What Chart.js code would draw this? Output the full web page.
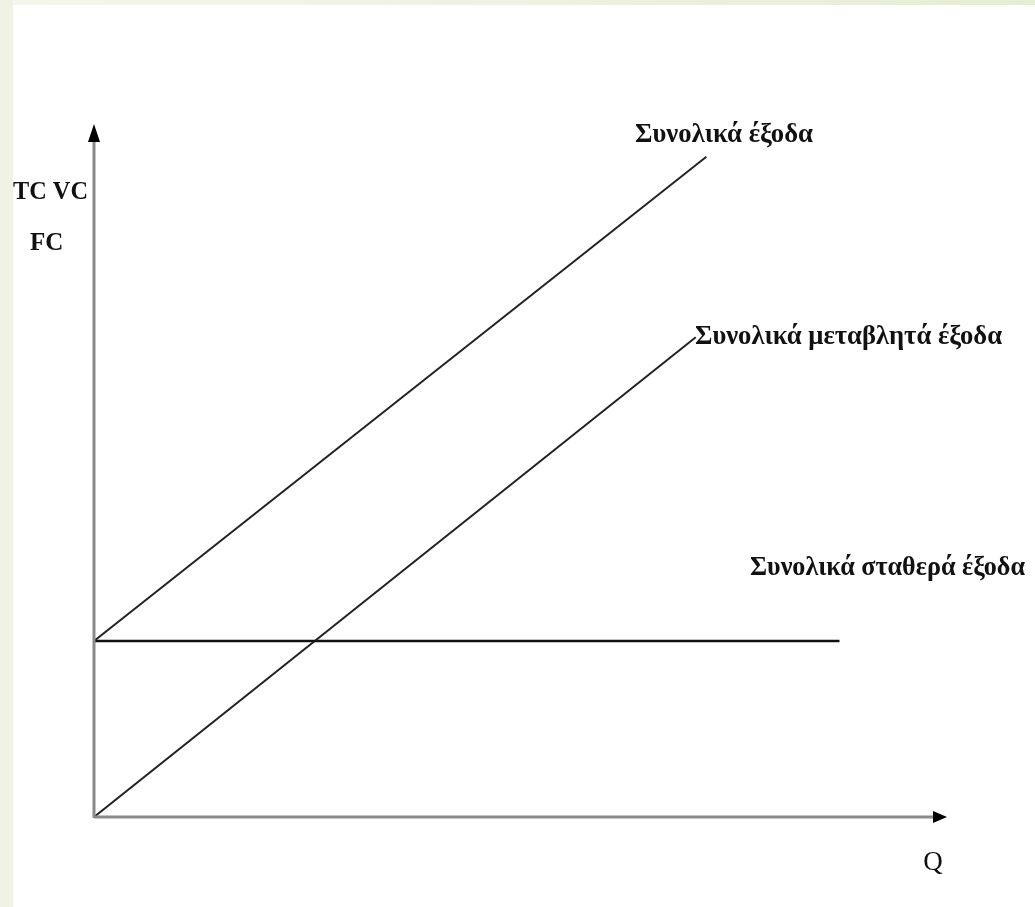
<!DOCTYPE html>
<html>
<head>
<meta charset="utf-8">
<script src="https://cdn.jsdelivr.net/npm/chart.js@4.4.0/dist/chart.umd.min.js"></script>
<style>
  body { margin: 0; background: #ffffff; }
  #wrap { position: relative; width: 1035px; height: 907px; }
  .strip-top { position: absolute; left: 0; top: 0; width: 1035px; height: 5px; background: linear-gradient(to right, #f4f6ec, #e6edd6); }
  .strip-left { position: absolute; left: 0; top: 0; width: 13px; height: 907px; background: #eff2e4; }
  canvas { position: absolute; left: 0; top: 0; }
</style>
</head>
<body>
<div id="wrap">
  <div class="strip-top"></div>
  <div class="strip-left"></div>
  <canvas id="myChart" width="1035" height="907"></canvas>
</div>
<script>
// quantity (Q) and cost values
const fcQ = [0, 7];
const fcCost = [2, 2];
const tcQ = [0, 5.75];
const tcCost = [2, 7.5];
const vcQ = [0, 5.65];
const vcCost = [0, 5.45];

const labelTC = 'Συνολικά έξοδα';
const labelVC = 'Συνολικά μεταβλητά έξοδα';
const labelFC = 'Συνολικά σταθερά έξοδα';
const yAxisTitle = ['TC VC', 'FC'];
const xAxisTitle = 'Q';

function toPoints(xs, ys) {
  return xs.map((x, i) => ({ x: x, y: ys[i] }));
}

// draws the axes with arrows and the text labels
const axesPlugin = {
  id: 'axesPlugin',
  afterDatasetsDraw(chart) {
    const c = chart.ctx;
    const a = chart.chartArea;
    const x0 = chart.scales.x.getPixelForValue(0);
    const y0 = chart.scales.y.getPixelForValue(0);
    c.save();
    c.strokeStyle = '#8a8a8a';
    c.lineWidth = 3;
    c.beginPath();
    c.moveTo(x0, y0 + 1);
    c.lineTo(x0, a.top + 14);
    c.moveTo(x0, y0);
    c.lineTo(a.right - 12, y0);
    c.stroke();

    c.fillStyle = '#000';
    c.beginPath();
    c.moveTo(x0, a.top - 2);
    c.lineTo(x0 - 6, a.top + 16);
    c.lineTo(x0 + 6, a.top + 16);
    c.closePath();
    c.fill();
    c.beginPath();
    c.moveTo(a.right + 1, y0);
    c.lineTo(a.right - 13, y0 - 6);
    c.lineTo(a.right - 13, y0 + 6);
    c.closePath();
    c.fill();

    c.fillStyle = '#111';
    c.textBaseline = 'middle';
    c.font = 'bold 28px "Liberation Serif", serif';
    c.textAlign = 'left';
    c.fillText(labelTC, 635, 135, 178);
    c.fillText(labelVC, 695, 337, 307);
    c.fillText(labelFC, 750, 568, 275);

    c.font = 'bold 25px "Liberation Serif", serif';
    c.textAlign = 'left';
    c.fillText(yAxisTitle[0], 13, 193, 75);
    c.fillText(yAxisTitle[1], 30, 244, 35);
    c.font = '27px "Liberation Serif", serif';
    c.textAlign = 'center';
    c.fillText(xAxisTitle, 933, 863);
    c.restore();
  }
};

const ctx = document.getElementById('myChart');
chart = new Chart(ctx, {
  type: 'scatter',
  data: {
    datasets: [
      { label: labelFC, data: toPoints(fcQ, fcCost), showLine: true, borderColor: '#111', borderWidth: 2.5, pointRadius: 0 },
      { label: labelTC, data: toPoints(tcQ, tcCost), showLine: true, borderColor: '#222', borderWidth: 2, pointRadius: 0 },
      { label: labelVC, data: toPoints(vcQ, vcCost), showLine: true, borderColor: '#222', borderWidth: 2, pointRadius: 0 }
    ]
  },
  options: {
    responsive: false,
    animation: false,
    devicePixelRatio: 1,
    layout: { padding: { left: 94, top: 126, right: 89, bottom: 90 } },
    plugins: { legend: { display: false }, tooltip: { enabled: false } },
    scales: {
      x: { type: 'linear', min: 0, max: 8, display: false },
      y: { type: 'linear', min: 0, max: 7.85, display: false }
    }
  },
  plugins: [axesPlugin]
});
</script>
</body>
</html>
